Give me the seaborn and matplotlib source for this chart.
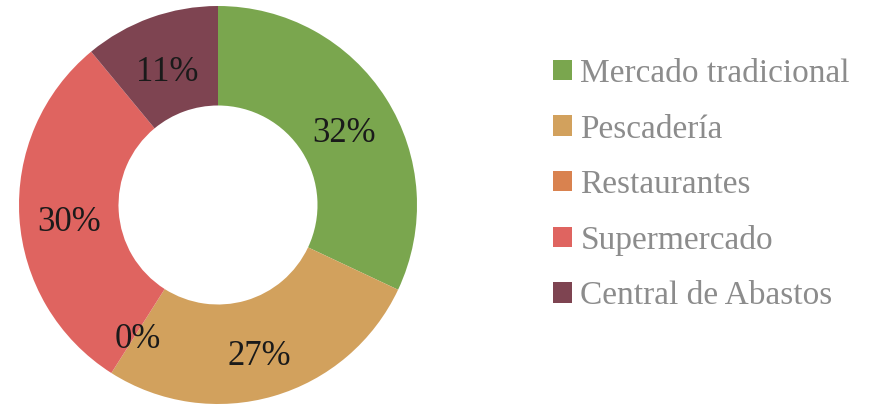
import matplotlib
matplotlib.use("Agg")
import matplotlib.pyplot as plt
import seaborn as sns
import numpy as np
from matplotlib.patches import Patch

categories = ["Mercado tradicional", "Pescadería", "Restaurantes", "Supermercado", "Central de Abastos"]
values = [32, 27, 0, 30, 11]
labels_pct = ["32%", "27%", "0%", "30%", "11%"]
colors = ["#7aa64e", "#d2a15d", "#d9824f", "#df6460", "#7e4451"]

sns.set_theme(style="white")
plt.rcParams['font.family'] = ['Liberation Serif', 'DejaVu Serif']

fig = plt.figure(figsize=(8.7, 4.11), dpi=100)
cx, cy, r = 218, 205, 199
ax = fig.add_axes([(cx - r) / 870, (411 - cy - r) / 411, 2 * r / 870, 2 * r / 411])
wedges, _ = ax.pie(values, colors=colors, startangle=90, counterclock=False,
                   radius=1, wedgeprops=dict(width=0.5, linewidth=0))
ax.set_xlim(-1, 1)
ax.set_ylim(-1, 1)
ax.set_aspect('equal')
ax.axis('off')

total = sum(values)
cum = 0
for v, lab in zip(values, labels_pct):
    mid = 90 - (cum + v / 2) / total * 360
    cum += v
    ang = np.deg2rad(mid)
    ax.annotate(lab, xy=(0.75 * np.cos(ang), 0.75 * np.sin(ang)), xytext=(0, -6),
                textcoords='offset points', ha='center', va='center',
                fontsize=25, color='#1a1a1a')

handles = [Patch(facecolor=c, edgecolor='none') for c in colors]
leg = fig.legend(handles, categories, loc='upper left', bbox_to_anchor=(553 / 870, 1 - 58.5 / 411),
                 frameon=False, fontsize=24, labelcolor='#8c8c8c',
                 handlelength=0.57, handleheight=0.57, handletextpad=0.25,
                 labelspacing=0.75, borderaxespad=0, borderpad=0)

fig.savefig("out.png", dpi=100)
